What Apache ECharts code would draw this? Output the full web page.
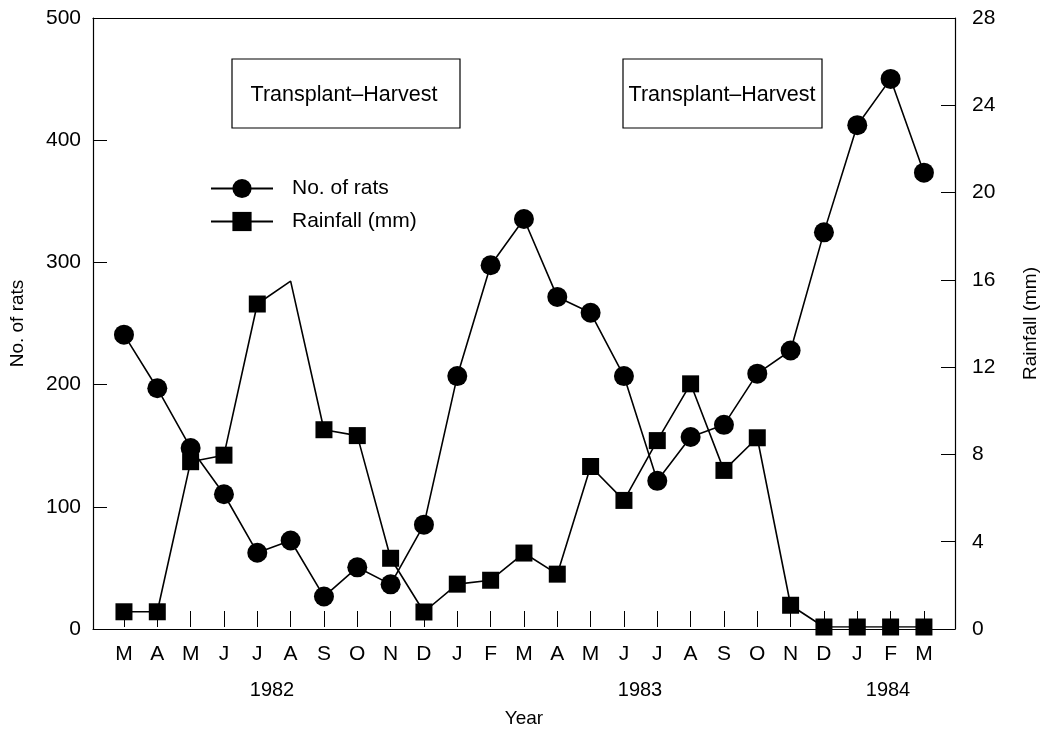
<!DOCTYPE html>
<html>
<head>
<meta charset="utf-8">
<script src="https://cdn.jsdelivr.net/npm/echarts@6/dist/echarts.min.js"></script>
<style>html,body{margin:0;padding:0;background:#fff}#c{width:1048px;height:733px}</style>
</head>
<body>
<div id="c"></div>
<script>
var months = ['M','A','M','J','J','A','S','O','N','D','J','F','M','A','M','J','J','A','S','O','N','D','J','F','M'];
var rats = [240,196,147,109,61,71,25,49,35,84,206,297,335,271,258,206,120,156,166,208,227,324,412,450,373];
var rainfall = [0.7,0.7,7.6,7.9,14.85,15.9,9.07,8.8,3.16,0.69,1.97,2.15,3.4,2.43,7.38,5.82,8.57,11.18,7.2,8.7,1.0,0,0,0,0];
var noMarkerRain = [5];
var ratTicks = {min:0,max:500,interval:100};
var rainTicks = {min:0,max:28,interval:4};
var years = [{t:'1982',x:272},{t:'1983',x:640},{t:'1984',x:888}];
var seasons = ['Transplant\u2013Harvest','Transplant\u2013Harvest'];

var FONT = 'Liberation Sans, Arial, Helvetica, sans-serif';
var chart = echarts.init(document.getElementById('c'));
var rainData = rainfall.map(function(v,i){
  return noMarkerRain.indexOf(i) >= 0 ? {value:v, symbol:'none'} : v;
});
function frameAxis(pos){
  return {type:'value',min:0,max:1,gridIndex:0,position:pos,
    axisLine:{show:true,onZero:false,lineStyle:{color:'#000',width:1.2}},
    axisTick:{show:false},axisLabel:{show:false},splitLine:{show:false}};
}
var option = {
  backgroundColor:'#fff',
  animation:false,
  textStyle:{fontFamily:FONT,color:'#000'},
  grid:[
    {left:92,right:89,top:18,bottom:104},
    {left:107.3,width:833.3,top:18,bottom:104}
  ],
  legend:{
    orient:'vertical',left:205,top:173,itemWidth:62,itemHeight:24,itemGap:12,
    textStyle:{fontSize:21,color:'#000',fontFamily:FONT,padding:[0,0,0,14]},
    data:['No. of rats','Rainfall (mm)']
  },
  xAxis:[
    frameAxis('bottom'),
    frameAxis('top'),
    {type:'category',gridIndex:1,data:months,boundaryGap:true,
     axisLine:{show:false,onZero:false},
     axisTick:{show:true,inside:true,alignWithLabel:true,length:16,lineStyle:{color:'#000',width:1}},
     axisLabel:{fontSize:21,color:'#000',margin:17,fontFamily:FONT},
     splitLine:{show:false},
     name:'Year',nameLocation:'middle',nameGap:82,nameTextStyle:{fontSize:19,color:'#000',fontFamily:FONT}}
  ],
  yAxis:[
    {type:'value',gridIndex:0,position:'left',min:ratTicks.min,max:ratTicks.max,interval:ratTicks.interval,
     axisLine:{show:true,onZero:false,lineStyle:{color:'#000',width:1.2}},
     axisTick:{show:true,inside:true,length:14,lineStyle:{color:'#000'}},
     axisLabel:{fontSize:21,color:'#000',margin:12,fontFamily:FONT},
     splitLine:{show:false},
     name:'No. of rats',nameLocation:'middle',nameRotate:90,nameGap:66,nameTextStyle:{fontSize:19,color:'#000',fontFamily:FONT}},
    {type:'value',gridIndex:0,position:'right',min:rainTicks.min,max:rainTicks.max,interval:rainTicks.interval,
     axisLine:{show:true,onZero:false,lineStyle:{color:'#000',width:1.2}},
     axisTick:{show:true,inside:true,length:14,lineStyle:{color:'#000'}},
     axisLabel:{fontSize:21,color:'#000',margin:17,fontFamily:FONT},
     splitLine:{show:false},
     name:'Rainfall (mm)',nameLocation:'middle',nameRotate:90,nameGap:66,nameTextStyle:{fontSize:19,color:'#000',fontFamily:FONT}},
    {type:'value',gridIndex:1,min:ratTicks.min,max:ratTicks.max,show:false},
    {type:'value',gridIndex:1,min:rainTicks.min,max:rainTicks.max,show:false}
  ],
  series:[
    {name:'No. of rats',type:'line',xAxisIndex:2,yAxisIndex:2,data:rats,
     symbol:'circle',symbolSize:20,showAllSymbol:true,
     itemStyle:{color:'#000'},lineStyle:{color:'#000',width:1.6},z:3},
    {name:'Rainfall (mm)',type:'line',xAxisIndex:2,yAxisIndex:3,data:rainData,
     symbol:'rect',symbolSize:17,showAllSymbol:true,
     itemStyle:{color:'#000'},lineStyle:{color:'#000',width:1.6},z:2}
  ],
  graphic:[
    {type:'rect',shape:{x:232,y:59,width:228,height:69},style:{fill:'#fff',stroke:'#000',lineWidth:1.2},z:10},
    {type:'text',x:344,y:95,style:{text:seasons[0],align:'center',verticalAlign:'middle',font:'21.5px '+FONT,fill:'#000'},z:11},
    {type:'rect',shape:{x:623,y:59,width:199,height:69},style:{fill:'#fff',stroke:'#000',lineWidth:1.2},z:10},
    {type:'text',x:722,y:95,style:{text:seasons[1],align:'center',verticalAlign:'middle',font:'21.5px '+FONT,fill:'#000'},z:11}
  ].concat(years.map(function(y){
    return {type:'text',x:y.x,y:690,style:{text:y.t,align:'center',verticalAlign:'middle',font:'20px '+FONT,fill:'#000'}};
  }))
};
chart.setOption(option);
</script>
</body>
</html>
